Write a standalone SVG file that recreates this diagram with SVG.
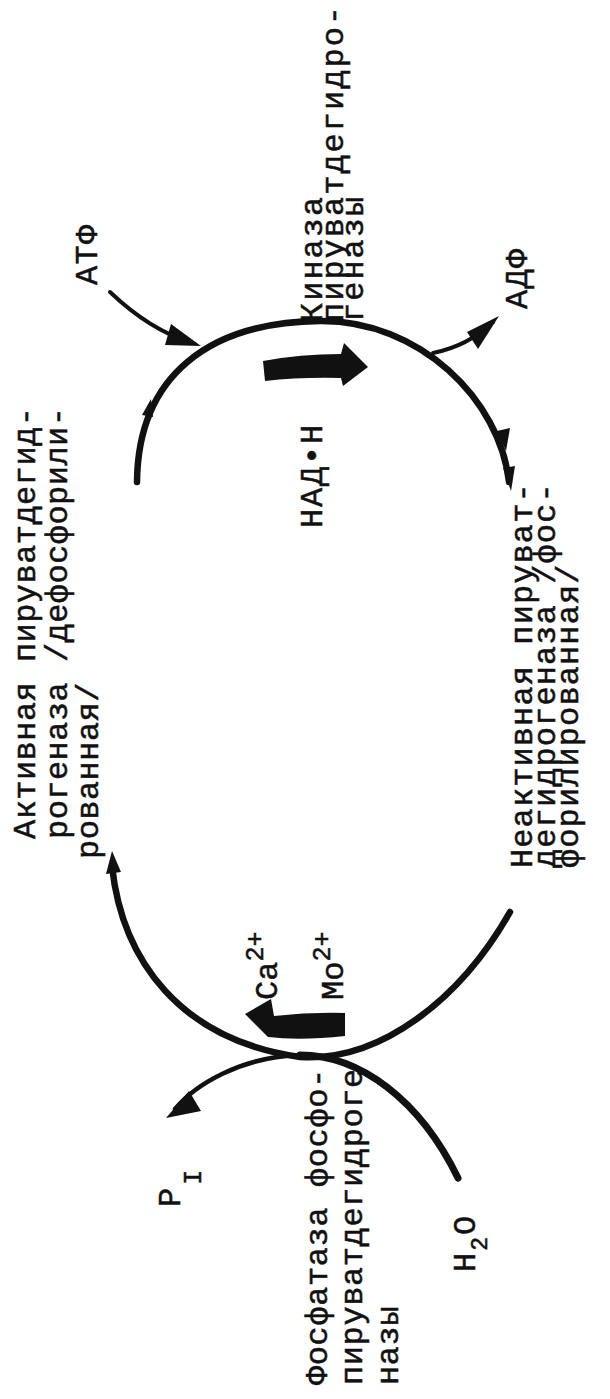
<svg xmlns="http://www.w3.org/2000/svg" width="610" height="1399" viewBox="0 0 610 1399">
<style>
.t{font-family:"Liberation Mono","DejaVu Sans Mono",monospace;font-size:32px;fill:#111;stroke:#111;stroke-width:0.5px}
.ln{fill:none;stroke:#111;stroke-linecap:round;stroke-linejoin:round}
.f{fill:#111;stroke:none}
</style>
<rect width="610" height="1399" fill="#fff"/>
<g id="connectors">
  <path class="ln" stroke-width="6.5" d="M137,482 C138,375 210,322 320,321 C420,320 500,400 509,482"/>
  <polygon class="f" points="142,415 153,417 151,399"/>
  <polygon class="f" points="497,431 510,428 506,451"/>
  <polygon class="f" points="503,468 515,466 511,491"/>
  <path class="ln" stroke-width="4" d="M110,292 Q150,330 190,342"/>
  <polygon class="f" points="201,346 171,324 165,345"/>
  <path class="ln" stroke-width="4" d="M433,353 Q468,346 493,322"/>
  <polygon class="f" points="499,316 467,332 478,349"/>
  <path class="f" d="M263,361 Q300,354 341,354 L344,343 L368,367 L343,386 L341,378 Q300,377 265,381 Z"/>
  <path class="ln" stroke-width="6.5" d="M112,866 C122,960 180,1040 300,1057 C380,1062 460,1000 510,912"/>
  <polygon class="f" points="106,874 121,872 112,851"/>
  <path class="ln" stroke-width="4.5" d="M175,1109 C195,1085 240,1057 300,1055"/>
  <polygon class="f" points="166,1118 189,1091 201,1111"/>
  <path class="ln" stroke-width="7" d="M300,1055 C360,1055 420,1100 458,1178"/>
  <path class="f" d="M345,1013 L345,1036 Q300,1041 268,1037 L245,1014 L271,999 L274,1016 Q310,1012 345,1013 Z"/>
</g>
<g id="node-active" class="t" style="letter-spacing:0.45px">
  <text transform="translate(35,839) rotate(-90)">Активная пируватдегид-</text>
  <text transform="translate(67,839) rotate(-90)">рогеназа /дефосфорили-</text>
  <text transform="translate(98,859) rotate(-90)">рованная/</text>
</g>
<g id="node-kinase" class="t" style="letter-spacing:2px">
  <text transform="translate(322,322) rotate(-90)">Киназа</text>
  <text transform="translate(343,322) rotate(-90)">пируватдегидро-</text>
  <text transform="translate(363,322) rotate(-90)">геназы</text>
</g>
<g id="node-inactive" class="t" style="letter-spacing:1.1px">
  <text transform="translate(532,868) rotate(-90)">Неактивная пируват-</text>
  <text transform="translate(555,868) rotate(-90)">дегидрогеназа /фос-</text>
  <text transform="translate(578,868) rotate(-90)">форилированная/</text>
</g>
<g id="node-phosphatase" class="t" style="letter-spacing:0.6px">
  <text transform="translate(327,1385) rotate(-90)">Фосфатаза фосфо-</text>
  <text transform="translate(362,1385) rotate(-90)">пируватдегидроге</text>
  <text transform="translate(398,1385) rotate(-90)">назы</text>
</g>
<g id="node-nadh" class="t" style="letter-spacing:1.8px">
  <text transform="translate(322,528) rotate(-90)">НАД•Н</text>
</g>
<g id="node-atp" class="t" style="letter-spacing:1.3px">
  <text transform="translate(97,285) rotate(-90)">АТФ</text>
</g>
<g id="node-adp" class="t" style="letter-spacing:1.3px">
  <text transform="translate(527,309) rotate(-90)">АДФ</text>
</g>
<g id="node-pi" class="t">
  <text transform="translate(180,1207) rotate(-90)">P<tspan dx="3" dy="21" font-size="25">I</tspan></text>
</g>
<g id="node-h2o" class="t" style="letter-spacing:2px">
  <text transform="translate(475,1272) rotate(-90)">H<tspan dy="12" font-size="23">2</tspan><tspan dy="-12">O</tspan></text>
</g>
<g id="node-ca" class="t">
  <text transform="translate(277,1000) rotate(-90)">Ca<tspan dy="-14" font-size="25">2+</tspan></text>
</g>
<g id="node-mo" class="t">
  <text transform="translate(343,1000) rotate(-90)">Mo<tspan dy="-13" font-size="25">2+</tspan></text>
</g>
</svg>
